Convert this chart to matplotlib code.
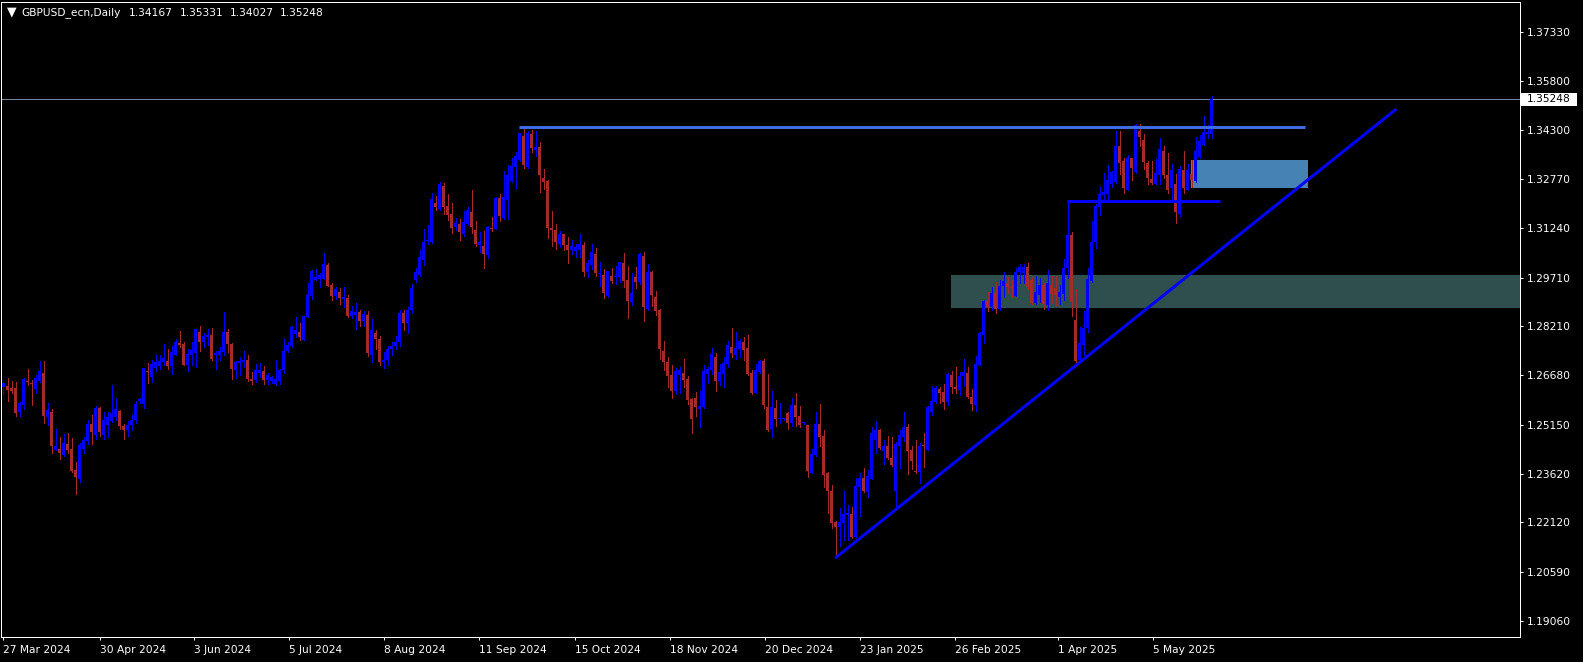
import matplotlib
matplotlib.use("Agg")
import matplotlib.pyplot as plt
from matplotlib.patches import Rectangle
import numpy as np

# ---------------- data ----------------
title = "GBPUSD_ecn,Daily"
header_ohlc = ["1.34167", "1.35331", "1.34027", "1.35248"]
bid_price = 1.35248

date_labels = ["27 Mar 2024", "30 Apr 2024", "3 Jun 2024", "5 Jul 2024", "8 Aug 2024",
               "11 Sep 2024", "15 Oct 2024", "18 Nov 2024", "20 Dec 2024", "23 Jan 2025",
               "26 Feb 2025", "1 Apr 2025", "5 May 2025"]
date_bars = [0, 24, 48, 72, 96, 120, 144, 168, 192, 216, 240, 264, 288]
price_ticks = [1.19060, 1.20590, 1.22120, 1.23620, 1.25150, 1.26680, 1.28210,
               1.29710, 1.31240, 1.32770, 1.34300, 1.35800, 1.37330]

opens = [
    1.2631, 1.2635, 1.2629, 1.2629, 1.2553, 1.2577, 1.2648, 1.2642, 1.2625, 1.2650,
    1.2676, 1.2538, 1.2553, 1.2437, 1.2440, 1.2421, 1.2456, 1.2440, 1.2375, 1.2346,
    1.2441, 1.2463, 1.2517, 1.2482, 1.2567, 1.2484, 1.2514, 1.2527, 1.2538, 1.2558,
    1.2511, 1.2498, 1.2515, 1.2530, 1.2588, 1.2578, 1.2678, 1.2664, 1.2691, 1.2698,
    1.2710, 1.2713, 1.2698, 1.2731, 1.2768, 1.2765, 1.2699, 1.2731, 1.2736, 1.2803,
    1.2771, 1.2788, 1.2794, 1.2730, 1.2730, 1.2741, 1.2803, 1.2765, 1.2686, 1.2707,
    1.2709, 1.2717, 1.2658, 1.2653, 1.2676, 1.2681, 1.2653, 1.2652, 1.2642, 1.2652,
    1.2684, 1.2743, 1.2758, 1.2796, 1.2801, 1.2777, 1.2850, 1.2915, 1.2965, 1.2967,
    1.2968, 1.3010, 1.2947, 1.2915, 1.2927, 1.2904, 1.2908, 1.2852, 1.2856, 1.2863,
    1.2838, 1.2856, 1.2730, 1.2800, 1.2780, 1.2710, 1.2715, 1.2750, 1.2760, 1.2770,
    1.2860, 1.2830, 1.2870, 1.2963, 1.2979, 1.3026, 1.3085, 1.3081, 1.3203, 1.3183,
    1.3255, 1.3194, 1.3167, 1.3129, 1.3137, 1.3106, 1.3139, 1.3175, 1.3118, 1.3072,
    1.3068, 1.3040, 1.3125, 1.3122, 1.3218, 1.3155, 1.3211, 1.3272, 1.3313, 1.3336,
    1.3409, 1.3315, 1.3417, 1.3367, 1.3377, 1.3279, 1.3272, 1.3126, 1.3119, 1.3074,
    1.3106, 1.3072, 1.3056, 1.3055, 1.3057, 1.3073, 1.2989, 1.3010, 1.3044, 1.2982,
    1.2980, 1.2915, 1.2977, 1.2974, 1.2972, 1.3015, 1.2964, 1.2896, 1.2974, 1.2959,
    1.3038, 1.2873, 1.2989, 1.2911, 1.2870, 1.2743, 1.2709, 1.2669, 1.2619, 1.2669,
    1.2675, 1.2656, 1.2594, 1.2597, 1.2563, 1.2569, 1.2673, 1.2684, 1.2725, 1.2650,
    1.2672, 1.2703, 1.2756, 1.2731, 1.2749, 1.2771, 1.2752, 1.2676, 1.2614, 1.2679,
    1.2713, 1.2571, 1.2503, 1.2567, 1.2532, 1.2532, 1.2552, 1.2519, 1.2576, 1.2542,
    1.2519, 1.2515, 1.2366, 1.2421, 1.2517, 1.2480, 1.2364, 1.2310, 1.2214, 1.2198,
    1.2209, 1.2235, 1.2238, 1.2166, 1.2323, 1.2349, 1.2307, 1.2347, 1.2467, 1.2499,
    1.2434, 1.2449, 1.2413, 1.2310, 1.2449, 1.2476, 1.2509, 1.2436, 1.2371, 1.2369,
    1.2450, 1.2438, 1.2555, 1.2586, 1.2625, 1.2617, 1.2586, 1.2669, 1.2632, 1.2624,
    1.2666, 1.2674, 1.2601, 1.2575, 1.2700, 1.2793, 1.2899, 1.2879, 1.2922, 1.2874,
    1.2945, 1.2955, 1.2943, 1.2915, 1.2990, 1.2984, 1.3003, 1.2964, 1.2893, 1.2917,
    1.2948, 1.2886, 1.2948, 1.2938, 1.2912, 1.2920, 1.3000, 1.3103, 1.2840, 1.2716,
    1.2762, 1.2816, 1.2961, 1.3083, 1.3189, 1.3227, 1.3232, 1.3263, 1.3269, 1.3380,
    1.3333, 1.3244, 1.3341, 1.3300, 1.3426, 1.3398, 1.3327, 1.3277, 1.3263, 1.3291,
    1.3365, 1.3289, 1.3248, 1.3261, 1.3167, 1.3305, 1.3243, 1.3294, 1.3271, 1.3346,
    1.3384, 1.3416, 1.34167,
]
highs = [
    1.2648, 1.2661, 1.2650, 1.2648, 1.2584, 1.2661, 1.2688, 1.2654, 1.2669, 1.2712,
    1.2712, 1.2582, 1.2563, 1.2501, 1.2476, 1.2487, 1.2489, 1.2474, 1.2398, 1.2458,
    1.2476, 1.2530, 1.2545, 1.2574, 1.2571, 1.2555, 1.2553, 1.2638, 1.2599, 1.2561,
    1.2517, 1.2525, 1.2545, 1.2590, 1.2597, 1.2692, 1.2706, 1.2716, 1.2732, 1.2732,
    1.2766, 1.2749, 1.2758, 1.2780, 1.2806, 1.2773, 1.2751, 1.2771, 1.2811, 1.2821,
    1.2798, 1.2811, 1.2815, 1.2742, 1.2757, 1.2865, 1.2811, 1.2767, 1.2711, 1.2726,
    1.2742, 1.2731, 1.2679, 1.2703, 1.2705, 1.2697, 1.2674, 1.2666, 1.2716, 1.2689,
    1.2780, 1.2770, 1.2821, 1.2848, 1.2829, 1.2852, 1.2954, 1.2995, 1.2997, 1.2985,
    1.3047, 1.3017, 1.2953, 1.2943, 1.2938, 1.2941, 1.2916, 1.2884, 1.2892, 1.2871,
    1.2869, 1.2867, 1.2842, 1.2810, 1.2790, 1.2740, 1.2760, 1.2770, 1.2790, 1.2870,
    1.2870, 1.2880, 1.2950, 1.3000, 1.3057, 1.3121, 1.3133, 1.3233, 1.3225, 1.3268,
    1.3264, 1.3232, 1.3202, 1.3157, 1.3152, 1.3177, 1.3189, 1.3244, 1.3146, 1.3112,
    1.3115, 1.3131, 1.3160, 1.3221, 1.3232, 1.3303, 1.3319, 1.3343, 1.3362, 1.3421,
    1.3433, 1.3427, 1.3429, 1.3426, 1.3391, 1.3308, 1.3274, 1.3178, 1.3137, 1.3115,
    1.3106, 1.3098, 1.3087, 1.3076, 1.3106, 1.3081, 1.3026, 1.3076, 1.3063, 1.3019,
    1.2997, 1.2993, 1.3001, 1.3006, 1.3021, 1.3046, 1.3006, 1.2987, 1.3004, 1.3047,
    1.3051, 1.3013, 1.2992, 1.2930, 1.2875, 1.2774, 1.2724, 1.2700, 1.2690, 1.2695,
    1.2718, 1.2666, 1.2598, 1.2617, 1.2619, 1.2700, 1.2695, 1.2753, 1.2738, 1.2703,
    1.2726, 1.2774, 1.2814, 1.2801, 1.2781, 1.2787, 1.2793, 1.2685, 1.2703, 1.2716,
    1.2720, 1.2672, 1.2620, 1.2592, 1.2581, 1.2535, 1.2555, 1.2599, 1.2614, 1.2573,
    1.2521, 1.2515, 1.2439, 1.2555, 1.2579, 1.2499, 1.2369, 1.2329, 1.2216, 1.2256,
    1.2310, 1.2266, 1.2261, 1.2351, 1.2364, 1.2382, 1.2375, 1.2509, 1.2527, 1.2503,
    1.2467, 1.2480, 1.2478, 1.2461, 1.2499, 1.2555, 1.2516, 1.2450, 1.2467, 1.2457,
    1.2489, 1.2574, 1.2634, 1.2634, 1.2632, 1.2640, 1.2676, 1.2681, 1.2694, 1.2679,
    1.2719, 1.2694, 1.2625, 1.2728, 1.2802, 1.2902, 1.2928, 1.2943, 1.2957, 1.2964,
    1.2990, 1.2974, 1.2964, 1.3000, 1.3013, 1.3012, 1.3017, 1.2974, 1.2977, 1.2969,
    1.2955, 1.2995, 1.2976, 1.2976, 1.2948, 1.3028, 1.3209, 1.3114, 1.2935, 1.2817,
    1.2869, 1.3000, 1.3147, 1.3201, 1.3253, 1.3295, 1.3320, 1.3303, 1.3427, 1.3427,
    1.3343, 1.3351, 1.3343, 1.3447, 1.3447, 1.3417, 1.3333, 1.3333, 1.3339, 1.3403,
    1.3379, 1.3357, 1.3325, 1.3294, 1.3318, 1.3364, 1.3323, 1.3336, 1.3406, 1.3413,
    1.3472, 1.3444, 1.35331,
]
lows = [
    1.2610, 1.2589, 1.2612, 1.2541, 1.2542, 1.2563, 1.2637, 1.2577, 1.2614, 1.2648,
    1.2521, 1.2513, 1.2428, 1.2435, 1.2410, 1.2418, 1.2426, 1.2369, 1.2300, 1.2336,
    1.2426, 1.2454, 1.2454, 1.2472, 1.2481, 1.2470, 1.2476, 1.2524, 1.2530, 1.2503,
    1.2471, 1.2480, 1.2500, 1.2520, 1.2583, 1.2568, 1.2645, 1.2648, 1.2683, 1.2688,
    1.2700, 1.2688, 1.2672, 1.2731, 1.2757, 1.2700, 1.2682, 1.2699, 1.2694, 1.2744,
    1.2757, 1.2762, 1.2715, 1.2687, 1.2715, 1.2731, 1.2741, 1.2657, 1.2661, 1.2668,
    1.2694, 1.2651, 1.2642, 1.2647, 1.2662, 1.2642, 1.2642, 1.2644, 1.2637, 1.2642,
    1.2676, 1.2741, 1.2756, 1.2788, 1.2777, 1.2777, 1.2850, 1.2904, 1.2964, 1.2941,
    1.2966, 1.2945, 1.2902, 1.2904, 1.2889, 1.2879, 1.2848, 1.2846, 1.2811, 1.2821,
    1.2821, 1.2727, 1.2709, 1.2750, 1.2700, 1.2690, 1.2700, 1.2730, 1.2750, 1.2760,
    1.2810, 1.2800, 1.2860, 1.2959, 1.2977, 1.3010, 1.3075, 1.3079, 1.3181, 1.3181,
    1.3168, 1.3150, 1.3110, 1.3119, 1.3089, 1.3100, 1.3133, 1.3110, 1.3068, 1.3052,
    1.3002, 1.3033, 1.3115, 1.3121, 1.3148, 1.3153, 1.3153, 1.3269, 1.3250, 1.3333,
    1.3312, 1.3312, 1.3362, 1.3349, 1.3238, 1.3246, 1.3095, 1.3069, 1.3061, 1.3066,
    1.3058, 1.3016, 1.3043, 1.3034, 1.3036, 1.2977, 1.2973, 1.2998, 1.2977, 1.2946,
    1.2909, 1.2912, 1.2954, 1.2952, 1.2959, 1.2941, 1.2846, 1.2886, 1.2938, 1.2951,
    1.2836, 1.2870, 1.2883, 1.2855, 1.2719, 1.2686, 1.2632, 1.2598, 1.2609, 1.2613,
    1.2631, 1.2578, 1.2490, 1.2543, 1.2507, 1.2568, 1.2645, 1.2671, 1.2619, 1.2637,
    1.2631, 1.2694, 1.2725, 1.2719, 1.2725, 1.2715, 1.2669, 1.2609, 1.2612, 1.2674,
    1.2566, 1.2495, 1.2478, 1.2510, 1.2519, 1.2531, 1.2501, 1.2510, 1.2510, 1.2508,
    1.2518, 1.2352, 1.2364, 1.2418, 1.2449, 1.2323, 1.2242, 1.2193, 1.2106, 1.2140,
    1.2158, 1.2158, 1.2163, 1.2166, 1.2232, 1.2307, 1.2291, 1.2347, 1.2426, 1.2441,
    1.2394, 1.2408, 1.2387, 1.2255, 1.2380, 1.2465, 1.2362, 1.2378, 1.2366, 1.2335,
    1.2385, 1.2438, 1.2545, 1.2583, 1.2581, 1.2564, 1.2576, 1.2614, 1.2614, 1.2606,
    1.2635, 1.2597, 1.2560, 1.2557, 1.2700, 1.2769, 1.2867, 1.2872, 1.2862, 1.2871,
    1.2912, 1.2922, 1.2912, 1.2915, 1.2953, 1.2955, 1.2936, 1.2889, 1.2889, 1.2896,
    1.2875, 1.2871, 1.2891, 1.2886, 1.2889, 1.2902, 1.2969, 1.2852, 1.2710, 1.2710,
    1.2731, 1.2803, 1.2958, 1.3064, 1.3165, 1.3212, 1.3212, 1.3253, 1.3266, 1.3292,
    1.3235, 1.3242, 1.3274, 1.3297, 1.3380, 1.3308, 1.3261, 1.3261, 1.3261, 1.3262,
    1.3281, 1.3235, 1.3212, 1.3142, 1.3163, 1.3235, 1.3243, 1.3253, 1.3269, 1.3343,
    1.3382, 1.3403, 1.34027,
]
closes = [
    1.2645, 1.2623, 1.2620, 1.2552, 1.2582, 1.2657, 1.2646, 1.2640, 1.2660, 1.2681,
    1.2542, 1.2559, 1.2449, 1.2449, 1.2428, 1.2458, 1.2437, 1.2372, 1.2354, 1.2452,
    1.2468, 1.2517, 1.2492, 1.2567, 1.2492, 1.2530, 1.2538, 1.2551, 1.2563, 1.2511,
    1.2498, 1.2515, 1.2530, 1.2580, 1.2594, 1.2690, 1.2677, 1.2704, 1.2710, 1.2713,
    1.2722, 1.2698, 1.2741, 1.2771, 1.2762, 1.2700, 1.2734, 1.2746, 1.2811, 1.2771,
    1.2790, 1.2794, 1.2720, 1.2738, 1.2744, 1.2803, 1.2764, 1.2688, 1.2709, 1.2712,
    1.2717, 1.2657, 1.2652, 1.2684, 1.2686, 1.2653, 1.2669, 1.2663, 1.2657, 1.2686,
    1.2744, 1.2762, 1.2817, 1.2808, 1.2788, 1.2852, 1.2916, 1.2992, 1.2972, 1.2979,
    1.3013, 1.2946, 1.2915, 1.2935, 1.2908, 1.2910, 1.2852, 1.2869, 1.2866, 1.2838,
    1.2859, 1.2738, 1.2808, 1.2780, 1.2710, 1.2715, 1.2750, 1.2760, 1.2770, 1.2860,
    1.2830, 1.2870, 1.2940, 1.2989, 1.3034, 1.3083, 1.3089, 1.3215, 1.3189, 1.3261,
    1.3191, 1.3165, 1.3126, 1.3142, 1.3113, 1.3144, 1.3181, 1.3129, 1.3075, 1.3083,
    1.3043, 1.3127, 1.3123, 1.3219, 1.3163, 1.3220, 1.3288, 1.3318, 1.3349, 1.3419,
    1.3320, 1.3419, 1.3372, 1.3377, 1.3288, 1.3269, 1.3126, 1.3119, 1.3082, 1.3108,
    1.3072, 1.3056, 1.3069, 1.3065, 1.3075, 1.2989, 1.3015, 1.3052, 1.2986, 1.2986,
    1.2924, 1.2992, 1.2961, 1.2977, 1.3019, 1.2962, 1.2898, 1.2922, 1.2959, 1.3044,
    1.2881, 1.2990, 1.2917, 1.2868, 1.2749, 1.2709, 1.2666, 1.2619, 1.2681, 1.2684,
    1.2653, 1.2591, 1.2532, 1.2571, 1.2573, 1.2681, 1.2688, 1.2734, 1.2650, 1.2678,
    1.2705, 1.2761, 1.2738, 1.2752, 1.2774, 1.2748, 1.2671, 1.2614, 1.2685, 1.2711,
    1.2576, 1.2500, 1.2571, 1.2532, 1.2535, 1.2534, 1.2521, 1.2576, 1.2540, 1.2514,
    1.2520, 1.2371, 1.2425, 1.2518, 1.2478, 1.2359, 1.2310, 1.2209, 1.2198, 1.2214,
    1.2238, 1.2242, 1.2166, 1.2325, 1.2349, 1.2310, 1.2357, 1.2489, 1.2499, 1.2444,
    1.2449, 1.2413, 1.2389, 1.2455, 1.2482, 1.2507, 1.2433, 1.2403, 1.2369, 1.2449,
    1.2448, 1.2570, 1.2589, 1.2629, 1.2614, 1.2586, 1.2672, 1.2632, 1.2626, 1.2666,
    1.2678, 1.2601, 1.2579, 1.2703, 1.2798, 1.2898, 1.2879, 1.2924, 1.2875, 1.2945,
    1.2961, 1.2941, 1.2938, 1.2990, 1.3003, 1.3005, 1.2943, 1.2891, 1.2927, 1.2948,
    1.2889, 1.2953, 1.2920, 1.2917, 1.2927, 1.3000, 1.3103, 1.2896, 1.2713, 1.2767,
    1.2814, 1.2967, 1.3081, 1.3193, 1.3230, 1.3238, 1.3274, 1.3298, 1.3380, 1.3328,
    1.3248, 1.3341, 1.3310, 1.3444, 1.3408, 1.3331, 1.3279, 1.3265, 1.3297, 1.3370,
    1.3291, 1.3243, 1.3305, 1.3175, 1.3308, 1.3250, 1.3305, 1.3274, 1.3364, 1.3396,
    1.3422, 1.3422, 1.35248,
]

# drawn objects: price levels and bar anchors
resistance_level = 1.3437
resistance_bars = (128.9, 325.4)
support_level = 1.3209
support_bars = (265.9, 304.2)
trend_bars = (207.9, 348.2)
trend_prices = (1.2101, 1.3494)
zone_low_prices = (1.2878, 1.2979)
zone_low_start = 236.9
zone_high_prices = (1.3250, 1.3336)
zone_high_bars = (296.9, 326.0)

# ---------------- figure / layout ----------------
W, H = 1583, 662
fig = plt.figure(figsize=(W / 100, H / 100), dpi=100, facecolor="black")
ax_l, ax_r, ax_t, ax_b = 1.0, 1520.0, 2.0, 637.0
ax = fig.add_axes([ax_l / W, 1 - ax_b / H, (ax_r - ax_l) / W, (ax_b - ax_t) / H])
ax.set_facecolor("black")

px_per_bar, first_bar_px = 4.0, 3.5
ax.set_xlim((ax_l - first_bar_px) / px_per_bar, (ax_r - first_bar_px) / px_per_bar)
px_per_price, ref_price, ref_px = 3224.0, 1.37330, 32.0
ax.set_ylim(ref_price - (ax_b - ref_px) / px_per_price,
            ref_price + (ref_px - ax_t) / px_per_price)

PX = 0.72  # one pixel in points
FS = 7.7
BULL, BEAR = "#0000FF", "#A52A2A"

# zones (background)
ax.add_patch(Rectangle((zone_low_start, zone_low_prices[0]), 1000,
                       zone_low_prices[1] - zone_low_prices[0],
                       facecolor="#2F4F4F", edgecolor="none", zorder=1))
ax.add_patch(Rectangle((zone_high_bars[0], zone_high_prices[0]),
                       zone_high_bars[1] - zone_high_bars[0],
                       zone_high_prices[1] - zone_high_prices[0],
                       facecolor="#4682B4", edgecolor="none", zorder=1))

# bid line
ax.axhline(bid_price, color="#778899", lw=PX, zorder=1.5)

# candles
o, h, l, c = map(np.array, (opens, highs, lows, closes))
x = np.arange(len(o))
cols = np.where(c >= o, BULL, BEAR)
ax.vlines(x, l, h, colors=cols, linewidth=PX, antialiased=False, zorder=3)
body_bottom = np.minimum(o, c)
body_height = np.maximum(np.abs(c - o), 1.0 / px_per_price)
ax.bar(x, body_height, bottom=body_bottom, width=0.78, color=cols,
       linewidth=0, antialiased=False, zorder=3)

# lines
ax.plot(resistance_bars, [resistance_level] * 2, color="#4169E1", lw=3 * PX,
        solid_capstyle="butt", zorder=4)
ax.plot(support_bars, [support_level] * 2, color="#0000FF", lw=3 * PX,
        solid_capstyle="butt", zorder=4)
ax.plot(trend_bars, trend_prices, color="#0000FF", lw=3 * PX,
        solid_capstyle="butt", zorder=4)

# axes styling
for s in ax.spines.values():
    s.set_color("white")
    s.set_linewidth(PX)
ax.yaxis.tick_right()
ax.set_yticks(price_ticks)
ax.set_yticklabels([f"{v:.5f}" for v in price_ticks])
ax.tick_params(axis="y", colors="white", length=3 * PX, width=PX,
               labelsize=FS, pad=3.5 * PX)

# date labels: MT4 draws the text slightly left of the bar it names
label_shift_px = [0, 0, -1.5, -2.5, -3.5, -4.5, -4.5, -5.5, -6.5, -7.5, -8.5, -1.5, -2.5]
ax.set_xticks([b + s / px_per_bar for b, s in zip(date_bars, label_shift_px)])
ax.set_xticklabels(date_labels)
ax.tick_params(axis="x", colors="white", length=3 * PX, width=PX,
               labelsize=FS, pad=5 * PX)
for lbl in ax.get_xticklabels():
    lbl.set_horizontalalignment("left")

# bid price box on the scale
yb = ax.transData.transform((0, bid_price))[1]
fig.add_artist(Rectangle((1521 / W, (yb - 6.5) / H), 56 / W, 13 / H,
                         transform=fig.transFigure, facecolor="white",
                         edgecolor="none", zorder=5))
fig.text(1526.5 / W, yb / H, f"{bid_price:.5f}", color="black", fontsize=FS,
         ha="left", va="center", zorder=6)

# header
fig.text(7 / W, 1 - 12.3 / H, "\u25BC", color="white", fontsize=9,
         ha="left", va="center")
fig.text(21.5 / W, 1 - 12.7 / H, title, color="white", fontsize=FS,
         ha="left", va="center")
for i, val in enumerate(header_ohlc):
    fig.text((129.3 + 50.3 * i) / W, 1 - 12.7 / H, val, color="white",
             fontsize=FS, ha="left", va="center")

fig.savefig("out.png", dpi=100, facecolor="black")
